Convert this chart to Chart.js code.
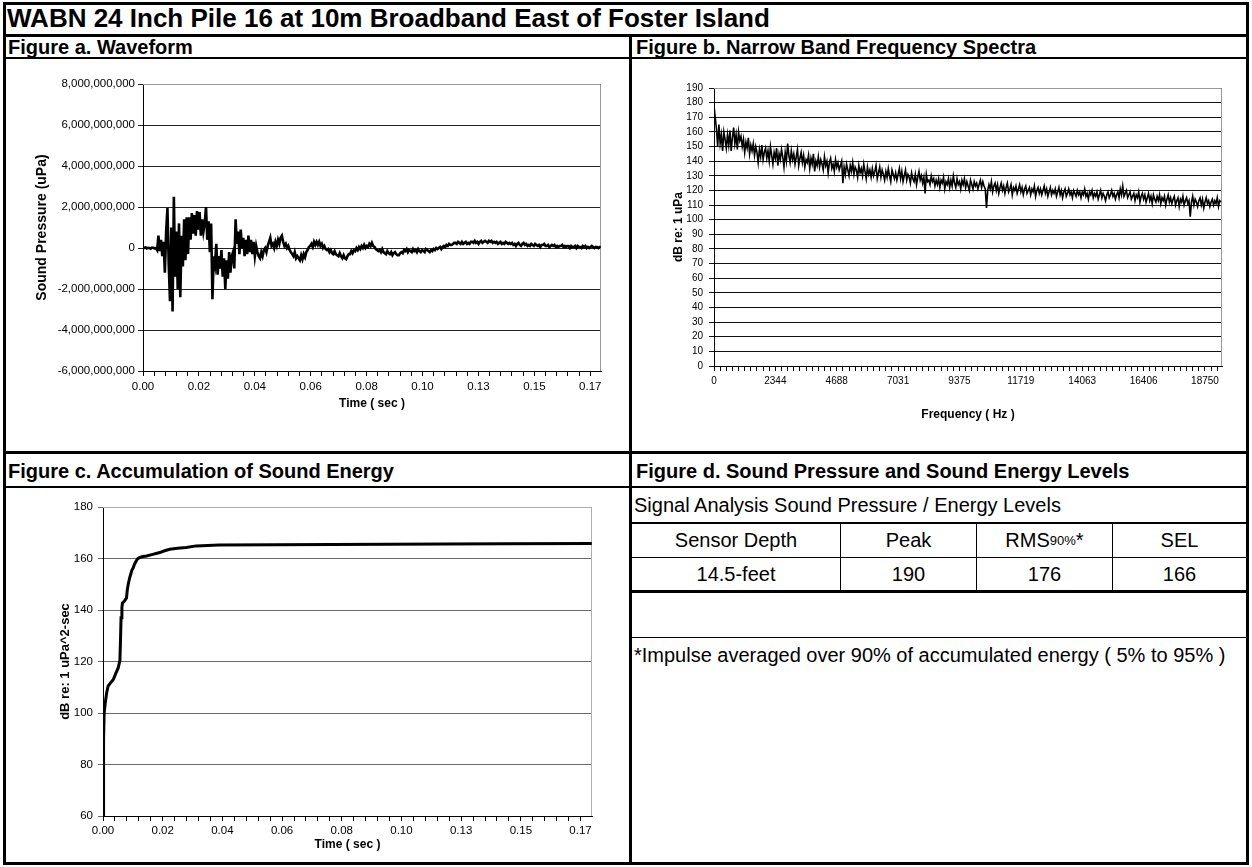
<!DOCTYPE html>
<html>
<head>
<meta charset="utf-8">
<script src="https://cdn.jsdelivr.net/npm/chart.js@4/dist/chart.umd.min.js"></script>
<style>
  html, body { margin: 0; padding: 0; background: #fff; }
  body { width: 1252px; height: 867px; position: relative; overflow: hidden;
         font-family: "Liberation Sans", Arial, sans-serif; color: #000; }
  .rule { position: absolute; background: #000; }
  .txt { position: absolute; white-space: nowrap; }
  .hdr { font-weight: bold; font-size: 20px; line-height: 24px; }
  .body20 { font-size: 20px; line-height: 24px; }
  canvas { position: absolute; }
  .cell { position: absolute; display: flex; align-items: center; justify-content: center;
          font-size: 20px; white-space: nowrap; }
  .cell sub { font-size: 13px; vertical-align: baseline; }
</style>
</head>
<body>

<!-- frame -->
<div class="rule" style="left:3px;top:2px;width:1246px;height:3px"></div>
<div class="rule" style="left:3px;top:2px;width:3px;height:863px"></div>
<div class="rule" style="left:1246px;top:2px;width:3px;height:863px"></div>
<div class="rule" style="left:3px;top:862px;width:1246px;height:3px"></div>
<div class="rule" style="left:3px;top:34px;width:1246px;height:3px"></div>
<div class="rule" style="left:3px;top:57px;width:1246px;height:2px"></div>
<div class="rule" style="left:629px;top:34px;width:3px;height:831px"></div>
<div class="rule" style="left:3px;top:451px;width:1246px;height:3px"></div>
<div class="rule" style="left:3px;top:486px;width:1246px;height:2px"></div>

<div class="txt" style="left:7px;top:3px;font-weight:bold;font-size:26px;line-height:30px">WABN 24 Inch Pile 16 at 10m Broadband East of Foster Island</div>
<div class="txt hdr" style="left:8px;top:35px">Figure a. Waveform</div>
<div class="txt hdr" style="left:636px;top:35px">Figure b. Narrow Band Frequency Spectra</div>
<div class="txt hdr" style="left:8px;top:459px">Figure c. Accumulation of Sound Energy</div>
<div class="txt hdr" style="left:636px;top:459px">Figure d. Sound Pressure and Sound Energy Levels</div>

<canvas id="waveChart" width="623" height="392" style="left:6px;top:59px"></canvas>
<canvas id="spectrumChart" width="614" height="392" style="left:632px;top:59px"></canvas>
<canvas id="energyChart" width="623" height="374" style="left:6px;top:488px"></canvas>

<!-- level table -->
<div class="txt body20" style="left:634px;top:493px">Signal Analysis Sound Pressure / Energy Levels</div>
<div class="rule" style="left:632px;top:522px;width:614px;height:2px"></div>
<div class="rule" style="left:632px;top:557px;width:614px;height:1px"></div>
<div class="rule" style="left:632px;top:590px;width:614px;height:3px"></div>
<div class="rule" style="left:840px;top:523px;width:1px;height:68px"></div>
<div class="rule" style="left:976px;top:523px;width:1px;height:68px"></div>
<div class="rule" style="left:1112px;top:523px;width:1px;height:68px"></div>
<div id="levelTable"></div>
<div class="rule" style="left:632px;top:637px;width:614px;height:1px"></div>
<div class="txt body20" style="left:634px;top:643px">*Impulse averaged over 90% of accumulated energy ( 5% to 95% )</div>

<script>
// ---- waveform: sound pressure in units of 1e8 uPa, decimated samples ----
const SAMPLE_RATE = 48000;
const WAVE_STEP = 23 / SAMPLE_RATE;
const PRESSURE_UNIT = 1e8;
const pressure = [
  0, 0, 0.3, -0.2, 0.1, 0, -0.3, 0.2, 0.1, -0.2, 0,
  -1, 6, -1.5, 4, -4,
  3, -12, 8, 19.5, -8, -26, 10, -31, 25, -14, 8, -20, 12, -24, 6, -9, 14, -6, 15, -3,
  15, 4, 17, 7, 16, 6, 18, 9, 17.5, 6, 14, 8, 12, 20,
  4, 13, -2, 12, -25, -4,
  -8, 2, -13, -4, -10, -1, -14, -5, -20, -6, -15, -2, -12, -4, -2, -10, 14, 2,
  8, -3, 9, 0, 5, -4, 4, -3, 6, -2, 4, -3, 3, -4, 1,
  -2, -4, -5, -2, -4, -1, 0, -2, 1, 3, 5, 1,
  2, 0, 3, 1, 4, 2, 5, 6, 3, 1, 2, 0, 1, -1, -2, -3, -4, -2, -5, -4,
  -5, -6, -3.5, -5.5, -3, -4.5, -2,
  -1, 0.5, 1, 2, 0.5, 3, 1.5, 3, 1.5, 3, 1, 2, 0,
  1, -0.5, -1, -0.5, -2, -1, -2.5, -3, -1.5, -3, -3.5, -4, -2.5, -4, -5, -3.5, -5, -5.5, -4, -3,
  -3, -1.5, -2.5, -1, -1.5, 0, -1, 0.5, -0.5, 1, 0, 1.5, 0, 1, 0.5, 2, 1, 2.5, 1, 0.5, -0.5, -1, -1.5,
  -1, -2, -0.5, -2, -2.5, -3, -1.5, -2.5, -3, -2, -3.5, -2.5, -2, -3, -3.5, -3.5, -2.5, -2, -2.5, -1, -1.5,
  -0.5, -2, -1, -1.5, -2, -0.5, -1.5, -1, -2, -0.5, -1.5, -2, -1, -1.5, -2, -0.5, -1, -1.5, -2, -1, -1.5, -0.5, -1, 0, -0.5,
  0, 0.5, -0.5, 0.5, 1, 0.5, 1.5, 1, 2, 1.5, 1.5, 2, 2.5, 2.5, 2, 3,
  2.5, 2, 3, 2, 2.5, 3, 2, 2.5, 2, 3, 3, 2.5, 3.5, 2.5, 3, 2, 3, 3.5, 2.5, 3,
  3.5, 3, 2.5, 3.5, 3, 3.5, 2.5, 3, 2.5, 3, 2, 2.5, 3, 2, 2.5, 2, 3, 2.5, 2, 2.5,
  2, 2.5, 1.5, 2, 1, 2, 2.5, 1.5, 1, 2, 2.5, 1.5, 2, 1, 1.5, 1, 2, 1.5, 1, 2,
  1.5, 1, 1.5, 0.5, 1.5, 1.5, 2, 1, 1, 1.5, 0.5, 1, 1.5, 1, 1.5, 0.5, 1, 0.5, 1, 1,
  1.5, 0.5, 1, 0.5, 1, 1, 0, 1, 0.5, 0.5, 1, 0, 1, 0.5, 0.5, 0, 1, 0.5, 1, 0,
  0.5, 0, 0.5, 1, 0.5, 0, 0.5, 0.5, 0, 0.5, 0.5
];

// time axis: 8192 samples, minor tick every 200 samples, label every 1000
const TIME_END = 8192 / SAMPLE_RATE;
const TIME_MINOR_STEP = 200 / SAMPLE_RATE;
const timeTickLabels = ['0.00', '0.02', '0.04', '0.06', '0.08', '0.10', '0.13', '0.15', '0.17'];

// ---- narrow band spectrum: dB re 1 uPa every 46.875 Hz ----
const SPECTRUM_BIN_HZ = 46.875;
const FREQ_END = 19400;
const FREQ_MINOR_STEP = 234.375;
const freqTickLabels = ['0', '2344', '4688', '7031', '9375', '11719', '14063', '16406', '18750'];
const spectrumDb = [
  178, 170, 162, 150, 165, 152, 158, 147, 160, 155, 149,
  158, 151, 161, 147, 156, 163, 152, 158, 148, 160, 154,
  157, 150, 155, 146, 153, 149, 156, 145, 151, 147, 152,
  144, 150, 146, 139, 148, 143, 151, 141, 146, 149, 142,
  147, 140, 150, 144, 138, 146, 142, 149, 137, 145,
  141, 148, 143, 136, 146, 140, 152, 144, 139, 147, 141,
  145, 138, 143, 148, 137, 142, 146, 139, 144, 136, 141,
  139, 144, 135, 142, 138, 145, 133, 140, 137, 143,
  136, 141, 138, 134, 143, 137, 140, 132, 139, 142, 135,
  138, 133, 141, 136, 139, 134, 137, 140, 125, 136, 131,
  138, 134, 130, 137, 133, 139, 131, 136, 134, 129,
  137, 132, 135, 130, 138, 133, 128, 136, 131, 134, 129,
  135, 130, 133, 137, 128, 132, 136, 129, 134, 131, 127,
  133, 129, 135, 130, 126, 134, 131, 128, 132, 127,
  131, 135, 128, 133, 126, 130, 134, 127, 131, 129, 125,
  132, 128, 126, 131, 124, 129, 133, 127, 130, 125,
  129, 118, 131, 126, 127, 124, 130, 126, 128, 123, 127,
  124, 128, 122, 127, 125, 129, 121, 126, 124, 128, 122,
  127, 123, 130, 125, 122, 128, 124, 126, 121, 127,
  124, 128, 122, 126, 123, 120, 127, 124, 121, 126, 123,
  125, 121, 124, 127, 122, 126, 123, 121, 108, 120,
  124, 121, 126, 119, 123, 125, 120, 124, 118, 122, 125,
  120, 123, 118, 122, 125, 119, 121, 124, 117, 122, 120,
  123, 118, 121, 124, 119, 122, 117, 121, 123, 118, 120,
  122, 117, 121, 119, 123, 116, 120, 122, 118, 121,
  117, 120, 123, 118, 121, 116, 119, 122, 117, 120, 118,
  121, 116, 119, 122, 117, 120, 115, 119, 121, 116, 118,
  121, 117, 119, 115, 120, 118, 116, 120, 117, 119,
  115, 119, 117, 121, 116, 118, 114, 119, 117, 120, 115,
  118, 116, 119, 114, 117, 120, 115, 118, 116, 113, 117,
  119, 115, 117, 120, 116, 118, 114, 117, 119, 115,
  121, 117, 123, 116, 118, 120, 115, 117, 119, 114, 116,
  118, 113, 117, 115, 119, 112, 116, 118, 114, 117, 112,
  115, 118, 113, 116, 111, 117, 114, 112, 116, 113,
  117, 111, 115, 113, 116, 110, 114, 117, 112, 115, 111,
  114, 116, 110, 113, 115, 109, 114, 112, 116, 110, 113,
  115, 111, 113, 102, 112, 116, 110, 114, 112, 109,
  113, 115, 110, 114, 108, 112, 115, 111, 113, 109, 112,
  114, 110, 113, 111, 115, 109, 113, 112
];

// ---- accumulated sound exposure level ----
const selTime = [0, 0.0002, 0.0004, 0.0008, 0.0013, 0.0018, 0.0025, 0.0036, 0.0045, 0.0053,
  0.0059, 0.0061, 0.0063, 0.0066, 0.0068, 0.0075, 0.0082, 0.0085, 0.0088, 0.0093,
  0.0097, 0.0101, 0.0105, 0.011, 0.0115, 0.012, 0.0128, 0.014, 0.0152, 0.017,
  0.0198, 0.0215, 0.0233, 0.026, 0.029, 0.0325, 0.0405, 0.06, 0.08, 0.1, 0.12, 0.14, 0.1706];
const selDb = [60, 90, 100, 104, 108, 110.5, 111.5, 113, 115.5, 117.5,
  120.5, 128, 137, 141, 142.7, 143.5, 144.7, 148, 150, 152.5,
  154, 155.5, 156.3, 157.8, 158.8, 159.8, 160.4, 160.8, 161, 161.5,
  162.3, 163, 163.6, 164, 164.3, 164.9, 165.2, 165.3, 165.4, 165.5, 165.6, 165.7, 165.8];

// ---- level summary ----
const levelHeaders = ['Sensor Depth', 'Peak', 'RMS', 'SEL'];
const levelValues = ['14.5-feet', '190', '176', '166'];
const levelColumns = [[632, 840], [841, 976], [977, 1112], [1113, 1246]];

// build table cells
const tbl = document.getElementById('levelTable');
levelHeaders.forEach((h, i) => {
  const [l, r] = levelColumns[i];
  const head = document.createElement('div');
  head.className = 'cell';
  head.style.cssText = `left:${l}px;top:524px;width:${r - l}px;height:33px`;
  if (h === 'RMS') head.innerHTML = 'RMS<sub>90%</sub>*';
  else head.textContent = h;
  tbl.appendChild(head);
  const val = document.createElement('div');
  val.className = 'cell';
  val.style.cssText = `left:${l}px;top:558px;width:${r - l}px;height:32px`;
  val.textContent = levelValues[i];
  tbl.appendChild(val);
});

// ---- chart helpers ----
Chart.defaults.font.family = '"Liberation Sans", Arial, sans-serif';
Chart.defaults.color = '#000';

const plotFrame = {
  id: 'plotFrame',
  beforeDatasetsDraw(chart, args, opts) {
    const {ctx, chartArea: a} = chart;
    ctx.save();
    ctx.strokeStyle = opts.color || '#999';
    ctx.lineWidth = 1;
    ctx.beginPath();
    const top = Math.round(a.top) + 0.5, right = Math.round(a.right) - 0.5;
    ctx.moveTo(Math.round(a.left), top);
    ctx.lineTo(right, top);
    ctx.lineTo(right, Math.round(a.bottom));
    ctx.stroke();
    ctx.restore();
  }
};

function minorTicks(step, end) {
  const out = [];
  for (let j = 0; j * step <= end + 1e-9; j++) out.push({value: j * step});
  return out;
}

function baseOptions(padding) {
  return {
    responsive: false, animation: false, devicePixelRatio: 1,
    layout: {padding},
    elements: {point: {radius: 0}, line: {tension: 0}},
  };
}

function bottomAxis(min, max, ticks, labels, every, labelFont, tickPad, titleText, titleSize, titlePadBottom, height) {
  return {
    type: 'linear', min, max,
    afterBuildTicks: s => { s.ticks = ticks; },
    ticks: {
      autoSkip: false, maxRotation: 0, minRotation: 0, padding: tickPad,
      font: {size: labelFont}, color: '#000',
      callback: (v, i) => (i % every === 0 ? labels[i / every] : '')
    },
    grid: {drawOnChartArea: false, drawTicks: true, tickLength: 5, color: '#000', lineWidth: 1},
    border: {display: true, color: '#000', width: 1},
    title: {display: true, text: titleText, font: {size: titleSize, weight: 'bold'},
            padding: {top: 0, bottom: titlePadBottom}},
    afterFit: s => { s.height = height; }
  };
}

function leftAxis(min, max, step, fmt, labelFont, tickPad, gridColor, titleText, titleSize, titlePadTop, width) {
  return {
    type: 'linear', min, max,
    ticks: {stepSize: step, autoSkip: false, padding: tickPad, font: {size: labelFont}, color: '#000', callback: fmt},
    grid: {drawOnChartArea: true, drawTicks: true, tickLength: 5, color: gridColor, lineWidth: 1},
    border: {display: true, color: '#000', width: 1},
    title: {display: true, text: titleText, font: {size: titleSize, weight: 'bold'},
            padding: {top: titlePadTop, bottom: 0}},
    afterFit: s => { s.width = width; }
  };
}

const quietPlugins = color => ({legend: {display: false}, tooltip: {enabled: false}, plotFrame: {color}});

// ---- Figure a: waveform ----
const waveData = pressure.map((p, i) => ({x: i * WAVE_STEP, y: p * PRESSURE_UNIT}));
const timeTicks = minorTicks(TIME_MINOR_STEP, TIME_END);
new Chart(document.getElementById('waveChart'), {
  type: 'line',
  data: {datasets: [{data: waveData, borderColor: '#000', borderWidth: 2.6, fill: false}]},
  options: Object.assign(baseOptions({left: 0, top: 25, right: 28, bottom: 0}), {
    scales: {
      x: bottomAxis(0, TIME_END, timeTicks, timeTickLabels, 5, 11.5, 4, 'Time ( sec )', 12, 40, 80),
      y: leftAxis(-6e9, 8e9, 2e9, v => v.toLocaleString('en-US'), 11.5, 3, '#222',
                  'Sound Pressure (uPa)', 14, 28, 137)
    },
    plugins: quietPlugins('#9a9a9a')
  }),
  plugins: [plotFrame]
});

// ---- Figure b: spectrum ----
const spectrumData = spectrumDb.map((d, k) => ({x: k * SPECTRUM_BIN_HZ, y: d}));
const freqTicks = minorTicks(FREQ_MINOR_STEP, FREQ_END);
new Chart(document.getElementById('spectrumChart'), {
  type: 'line',
  data: {datasets: [{data: spectrumData, borderColor: '#000', borderWidth: 1.6, fill: false}]},
  options: Object.assign(baseOptions({left: 0, top: 29, right: 24, bottom: 0}), {
    scales: {
      x: bottomAxis(0, FREQ_END, freqTicks, freqTickLabels, 10, 10, 4, 'Frequency ( Hz )', 12, 29, 85),
      y: leftAxis(0, 190, 10, v => String(v), 10, 6, '#111', 'dB re: 1 uPa', 12, 39, 82)
    },
    plugins: quietPlugins('#9a9a9a')
  }),
  plugins: [plotFrame]
});

// ---- Figure c: accumulated energy ----
const selData = selTime.map((t, i) => ({x: t, y: selDb[i]}));
new Chart(document.getElementById('energyChart'), {
  type: 'line',
  data: {datasets: [{data: selData, borderColor: '#000', borderWidth: 3, fill: false}]},
  options: Object.assign(baseOptions({left: 0, top: 19, right: 37, bottom: 0}), {
    scales: {
      x: bottomAxis(0, TIME_END, timeTicks, timeTickLabels, 5, 11.5, 3, 'Time ( sec )', 12, 10, 46),
      y: leftAxis(60, 180, 20, v => String(v), 11.5, 5, '#6a6a6a',
                  'dB re: 1 uPa^2-sec', 13, 52, 97)
    },
    plugins: quietPlugins('#b0b0b0')
  }),
  plugins: [plotFrame]
});
</script>
</body>
</html>
